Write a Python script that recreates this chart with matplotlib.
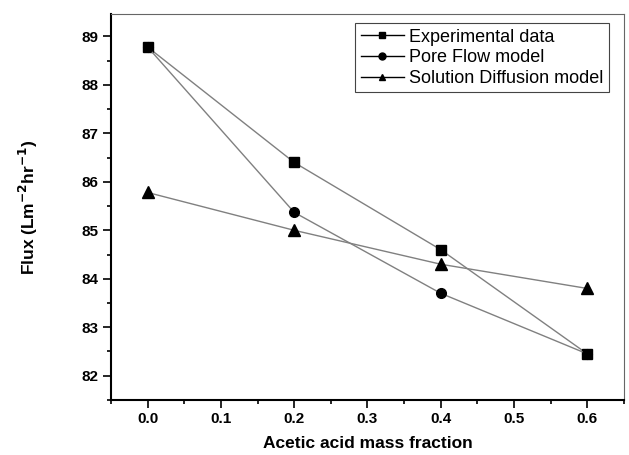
import matplotlib
matplotlib.use("Agg")
import matplotlib.pyplot as plt
from matplotlib.ticker import MultipleLocator

plt.rcParams['font.family'] = ['Liberation Sans', 'DejaVu Sans']

# acetic acid mass fraction
x = [0.0, 0.2, 0.4, 0.6]
experimental = [88.78, 86.40, 84.60, 82.45]
pore_flow = [88.78, 85.37, 83.70, 82.45]
solution_diffusion = [85.78, 85.00, 84.30, 83.80]

fig = plt.figure(figsize=(6.29, 4.55), dpi=100)
ax = fig.add_axes([0.1765, 0.121, 0.8155, 0.849])

line_kw = dict(color='#808080', lw=1.0, mfc='black', mec='black')
ax.plot(x, experimental, marker='s', ms=7, label='Experimental data', **line_kw)
ax.plot(x, pore_flow, marker='o', ms=7, label='Pore Flow model', **line_kw)
ax.plot(x, solution_diffusion, marker='^', ms=8, label='Solution Diffusion model', **line_kw)

ax.set_xlim(-0.05, 0.65)
ax.set_ylim(81.5, 89.47)
ax.xaxis.set_major_locator(MultipleLocator(0.1))
ax.xaxis.set_minor_locator(MultipleLocator(0.05))
ax.yaxis.set_major_locator(MultipleLocator(1))
ax.yaxis.set_minor_locator(MultipleLocator(0.5))
ax.tick_params(which='both', direction='out', top=False, right=False, width=1.2)
ax.tick_params(which='major', length=6, labelsize=11, pad=3)
ax.tick_params(which='minor', length=3)
for lbl in ax.get_xticklabels() + ax.get_yticklabels():
    lbl.set_fontweight('bold')

for side in ['left', 'bottom']:
    ax.spines[side].set_linewidth(1.5)
for side in ['top', 'right']:
    ax.spines[side].set_linewidth(0.8)
    ax.spines[side].set_color('#666666')

ax.set_xlabel('Acetic acid mass fraction', fontsize=12.5, fontweight='bold', labelpad=7)
ax.set_ylabel('Flux (Lm$^{\\mathbf{-2}}$hr$^{\\mathbf{-1}}$)', fontsize=12.5,
              fontweight='bold', labelpad=30)

leg = ax.legend(loc='upper right', bbox_to_anchor=(0.971, 0.975), fontsize=13,
                frameon=True, fancybox=False, edgecolor='#444444', framealpha=1,
                handlelength=2.4, labelspacing=0.2, borderpad=0.3, handletextpad=0.3,
                borderaxespad=0)
for h in leg.legend_handles:
    h.set_color('black')
    h.set_markersize(5)
leg.get_frame().set_linewidth(0.8)

fig.savefig('out.png', dpi=100)
